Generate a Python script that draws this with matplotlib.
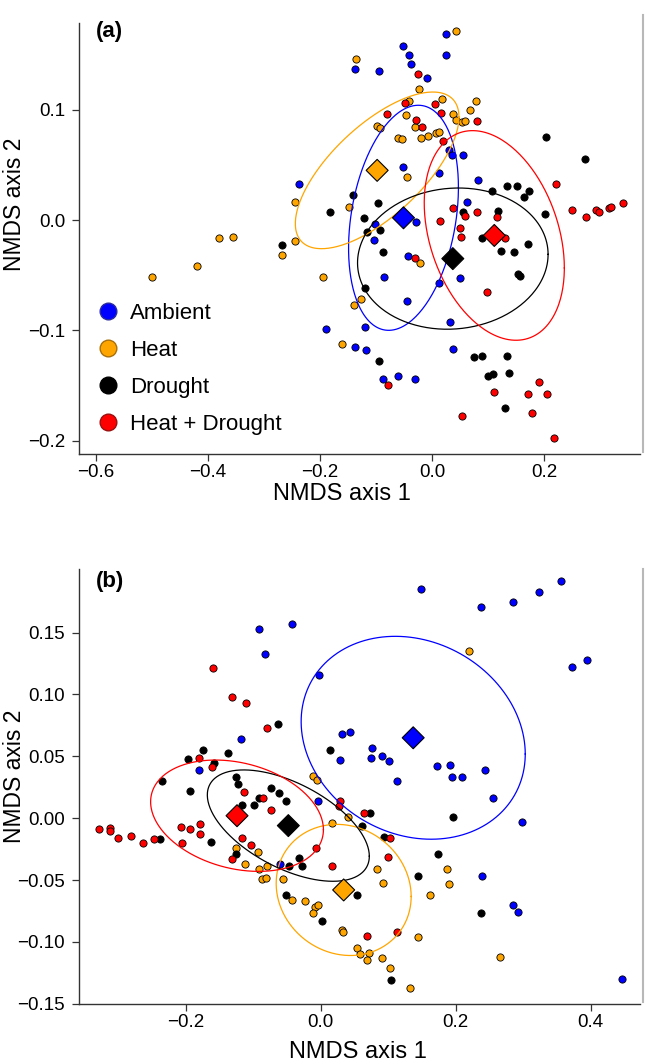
import numpy as np
import matplotlib.pyplot as plt
from matplotlib.lines import Line2D

plt.rcParams['font.family'] = ['Liberation Sans', 'DejaVu Sans']

groups = ['Ambient', 'Heat', 'Drought', 'Heat + Drought']
colors = ['#0000ff', '#ffa500', '#000000', '#ff0000']
legend_edges = ['#2a2aa0', '#a8700a', '#000000', '#9a1010']

# ---- panel (a) ----
a_amb_x = [0.025, -0.052, -0.041, -0.038, 0.025, -0.138, -0.095, -0.009, -0.238, 0.030,
           0.036, 0.055, -0.052, 0.013, 0.082, 0.063, -0.029, -0.102, -0.104, -0.043,
           -0.086, 0.050, 0.013, -0.045, 0.032, -0.189, -0.120, -0.138, -0.118, 0.038,
           -0.088, -0.061, -0.030]
a_amb_y = [0.169, 0.158, 0.150, 0.141, 0.150, 0.137, 0.135, 0.129, 0.033, 0.063,
           0.059, 0.059, 0.048, 0.043, 0.036, 0.016, -0.002, -0.004, -0.018, -0.033,
           -0.052, -0.053, -0.057, -0.073, -0.092, -0.099, -0.097, -0.115, -0.118, -0.117,
           -0.144, -0.141, -0.144]
a_heat_x = [0.042, -0.136, -0.024, -0.042, 0.017, 0.078, 0.067, -0.046, 0.038, 0.042,
            0.053, 0.058, -0.098, -0.093, -0.030, -0.007, -0.020, -0.061, -0.054, 0.007,
            0.013, -0.045, -0.149, -0.245, -0.245, -0.267, -0.381, -0.356, -0.419, -0.499,
            -0.195, -0.127, -0.139, -0.161, -0.021]
a_heat_y = [0.171, 0.146, 0.119, 0.108, 0.110, 0.108, 0.100, 0.095, 0.096, 0.091,
            0.089, 0.090, 0.085, 0.083, 0.084, 0.076, 0.074, 0.074, 0.073, 0.079,
            0.080, 0.039, 0.012, 0.016, -0.019, -0.032, -0.016, -0.015, -0.042, -0.052,
            -0.052, -0.072, -0.077, -0.112, -0.039]
a_dro_x = [0.203, 0.273, -0.141, -0.183, -0.096, -0.121, -0.116, -0.093, 0.107, 0.133,
           0.152, 0.173, 0.164, 0.055, 0.117, 0.201, 0.089, 0.171, -0.088, -0.267,
           0.123, 0.146, -0.120, 0.154, 0.156, -0.095, 0.075, 0.089, 0.134, 0.100,
           0.108, 0.138, 0.131]
a_dro_y = [0.075, 0.055, 0.023, 0.007, 0.015, 0.002, -0.011, -0.009, 0.026, 0.031,
           0.031, 0.026, 0.021, 0.007, 0.008, 0.005, -0.016, -0.022, -0.029, -0.023,
           -0.028, -0.029, -0.062, -0.049, -0.051, -0.128, -0.124, -0.123, -0.123, -0.141,
           -0.140, -0.139, -0.170]
a_hd_x = [-0.026, -0.048, 0.005, -0.081, 0.016, -0.029, -0.018, 0.081, 0.020, 0.222,
          0.250, 0.275, 0.292, 0.298, 0.315, 0.320, 0.341, 0.038, 0.081, 0.059,
          0.115, 0.014, 0.049, 0.051, 0.131, -0.030, 0.098, -0.079, 0.110, 0.191,
          0.171, 0.205, 0.054, 0.178, 0.218]
a_hd_y = [0.132, 0.106, 0.105, 0.096, 0.097, 0.091, 0.084, 0.090, 0.072, 0.033,
          0.009, 0.003, 0.009, 0.007, 0.011, 0.012, 0.015, 0.011, 0.007, 0.004,
          0.003, -0.001, -0.007, -0.015, -0.016, -0.034, -0.065, -0.150, -0.156, -0.147,
          -0.158, -0.158, -0.178, -0.175, -0.198]
a_cent_x = [-0.051, -0.098, 0.037, 0.111]
a_cent_y = [0.002, 0.045, -0.035, -0.014]
# ellipse: half-extent in x, half-extent in y, correlation
a_ell_sx = [0.098, 0.146, 0.170, 0.125]
a_ell_sy = [0.102, 0.071, 0.064, 0.095]
a_ell_rho = [0.27, 0.68, 0.06, -0.31]

# ---- panel (b) ----
b_amb_x = [-0.092, -0.043, -0.082, -0.002, -0.118, -0.180, 0.148, 0.238, 0.285, 0.324,
           0.356, 0.373, 0.394, 0.032, 0.043, 0.028, 0.076, 0.075, 0.091, 0.101,
           0.113, 0.172, 0.192, 0.195, 0.210, 0.243, 0.255, -0.004, 0.298, 0.239,
           0.285, 0.292, 0.446, -0.061]
b_amb_y = [0.153, 0.157, 0.133, 0.116, 0.064, 0.039, 0.185, 0.171, 0.175, 0.183,
           0.192, 0.122, 0.128, 0.068, 0.070, 0.047, 0.057, 0.049, 0.050, 0.046,
           0.030, 0.042, 0.043, 0.033, 0.033, 0.039, 0.016, 0.014, -0.003, -0.047,
           -0.070, -0.076, -0.130, -0.037]
b_heat_x = [0.219, -0.012, -0.006, 0.016, 0.040, 0.084, 0.092, 0.187, 0.190, 0.162,
            -0.023, -0.008, -0.004, -0.012, 0.031, 0.033, 0.144, 0.266, 0.054, 0.058,
            0.072, 0.069, 0.091, 0.102, 0.133, -0.126, -0.112, -0.093, -0.092, -0.079,
            -0.087, -0.081, -0.056, -0.043]
b_heat_y = [0.135, 0.034, 0.031, -0.004, 0.001, -0.041, -0.052, -0.041, -0.053, -0.062,
            -0.067, -0.072, -0.070, -0.077, -0.090, -0.092, -0.096, -0.112, -0.105, -0.110,
            -0.109, -0.115, -0.113, -0.121, -0.137, -0.024, -0.037, -0.027, -0.041, -0.039,
            -0.049, -0.048, -0.049, -0.066]
b_dro_x = [-0.064, -0.197, -0.174, -0.138, -0.158, -0.235, -0.126, -0.123, -0.193, -0.074,
           -0.062, 0.014, -0.051, -0.092, -0.099, -0.117, -0.163, -0.238, -0.126, -0.032,
           -0.047, -0.028, -0.051, 0.002, 0.073, 0.061, 0.094, 0.196, 0.174, 0.144,
           0.054, 0.238, 0.104]
b_dro_y = [0.076, 0.048, 0.055, 0.053, 0.045, 0.030, 0.033, 0.028, 0.022, 0.024,
           0.020, 0.055, 0.014, 0.016, 0.011, 0.011, -0.019, -0.017, -0.029, -0.032,
           -0.039, -0.039, -0.062, -0.083, 0.004, -0.006, -0.015, 0.001, -0.029, -0.047,
           -0.062, -0.077, -0.131]
b_hd_x = [-0.159, -0.131, -0.111, -0.079, -0.180, -0.161, -0.113, -0.085, -0.074, -0.179,
          -0.207, -0.194, -0.179, -0.328, -0.312, -0.312, -0.301, -0.281, -0.264, -0.247,
          -0.206, -0.117, -0.104, -0.131, -0.007, 0.029, 0.027, 0.064, 0.102, 0.100,
          0.017, 0.068, 0.113]
b_hd_y = [0.121, 0.098, 0.093, 0.073, 0.049, 0.041, 0.021, 0.016, 0.007, -0.005,
          -0.007, -0.009, -0.013, -0.009, -0.008, -0.010, -0.016, -0.014, -0.020, -0.017,
          -0.020, -0.016, -0.022, -0.033, -0.024, 0.014, 0.010, 0.004, -0.016, -0.031,
          -0.039, -0.095, -0.092]
b_cent_x = [0.137, 0.034, -0.048, -0.124]
b_cent_y = [0.065, -0.058, -0.006, 0.002]
b_ell_sx = [0.166, 0.100, 0.120, 0.128]
b_ell_sy = [0.082, 0.053, 0.045, 0.045]
b_ell_rho = [-0.16, -0.10, -0.55, -0.25]


def draw_panel(ax, pts, cx, cy, sx, sy, rho):
    for (x, y), c in zip(pts, colors):
        ax.scatter(x, y, s=27, c=c, edgecolors='black', linewidths=0.6, zorder=2)
    t = np.linspace(0, 2 * np.pi, 300)
    for i, c in enumerate(colors):
        ex = cx[i] + sx[i] * np.cos(t)
        ey = cy[i] + sy[i] * (rho[i] * np.cos(t) + np.sqrt(1 - rho[i] ** 2) * np.sin(t))
        ax.plot(ex, ey, color=c, lw=0.9, zorder=3)
    ax.scatter(cx, cy, s=125, marker='D', c=colors, edgecolors='black',
               linewidths=0.8, zorder=4)
    for side in ['top', 'right']:
        ax.spines[side].set_visible(False)
    for side in ['left', 'bottom']:
        ax.spines[side].set_color('#333333')
        ax.spines[side].set_linewidth(1.0)
    ax.tick_params(direction='out', length=5, width=0.9, labelsize=13.5, color='#333333')
    ax.tick_params(axis='x', pad=2)
    ax.tick_params(axis='y', pad=5)
    ax.set_xlabel('NMDS axis 1', fontsize=17)
    ax.set_ylabel('NMDS axis 2', fontsize=16.5)


fig = plt.figure(figsize=(6.46, 10.63), dpi=100)

ax1 = fig.add_axes([0.1223, 0.5729, 0.8684, 0.4055])
draw_panel(ax1,
           [(a_amb_x, a_amb_y), (a_heat_x, a_heat_y), (a_dro_x, a_dro_y), (a_hd_x, a_hd_y)],
           a_cent_x, a_cent_y, a_ell_sx, a_ell_sy, a_ell_rho)
ax1.set_xlim(-0.630, 0.371)
ax1.set_ylim(-0.2121, 0.1786)
ax1.set_xticks([-0.6, -0.4, -0.2, 0.0, 0.2])
ax1.set_xticklabels(['\u22120.6', '\u22120.4', '\u22120.2', '0.0', '0.2'])
ax1.set_yticks([-0.2, -0.1, 0.0, 0.1])
ax1.set_yticklabels(['\u22120.2', '\u22120.1', '0.0', '0.1'])
ax1.xaxis.set_label_coords(0.469, -0.068)
ax1.yaxis.set_label_coords(-0.094, 0.58)
ax1.text(0.030, 0.981, '(a)', transform=ax1.transAxes, fontsize=16,
         fontweight='bold', va='center', ha='left')

handles = [Line2D([], [], ls='none', marker='o', ms=12, markerfacecolor=c,
                  markeredgecolor=e, markeredgewidth=1.0)
           for c, e in zip(colors, legend_edges)]
ax1.legend(handles, groups, loc='upper left', bbox_to_anchor=(0.032, 0.350),
           frameon=False, fontsize=16, handlelength=1.0, handletextpad=0.5,
           labelspacing=0.72, borderpad=0, borderaxespad=0)

ax2 = fig.add_axes([0.1223, 0.0555, 0.8684, 0.4092])
draw_panel(ax2,
           [(b_amb_x, b_amb_y), (b_heat_x, b_heat_y), (b_dro_x, b_dro_y), (b_hd_x, b_hd_y)],
           b_cent_x, b_cent_y, b_ell_sx, b_ell_sy, b_ell_rho)
ax2.set_xlim(-0.3581, 0.4730)
ax2.set_ylim(-0.1502, 0.2014)
ax2.set_xticks([-0.2, 0.0, 0.2, 0.4])
ax2.set_xticklabels(['\u22120.2', '0.0', '0.2', '0.4'])
ax2.set_yticks([-0.15, -0.10, -0.05, 0.0, 0.05, 0.10, 0.15])
ax2.set_yticklabels(['\u22120.15', '\u22120.10', '\u22120.05', '0.00', '0.05', '0.10', '0.15'])
ax2.xaxis.set_label_coords(0.498, -0.085)
ax2.yaxis.set_label_coords(-0.094, 0.524)
ax2.text(0.030, 0.972, '(b)', transform=ax2.transAxes, fontsize=16,
         fontweight='bold', va='center', ha='left')

# thin grey border line at the right edge of each panel
fig.add_artist(Line2D([643 / 646, 643 / 646], [0.986, 0.575], color='#b8b8b8', lw=1.5))
fig.add_artist(Line2D([643 / 646, 643 / 646], [0.4647, 0.0574], color='#b8b8b8', lw=1.5))

fig.savefig('out.png', dpi=100)
